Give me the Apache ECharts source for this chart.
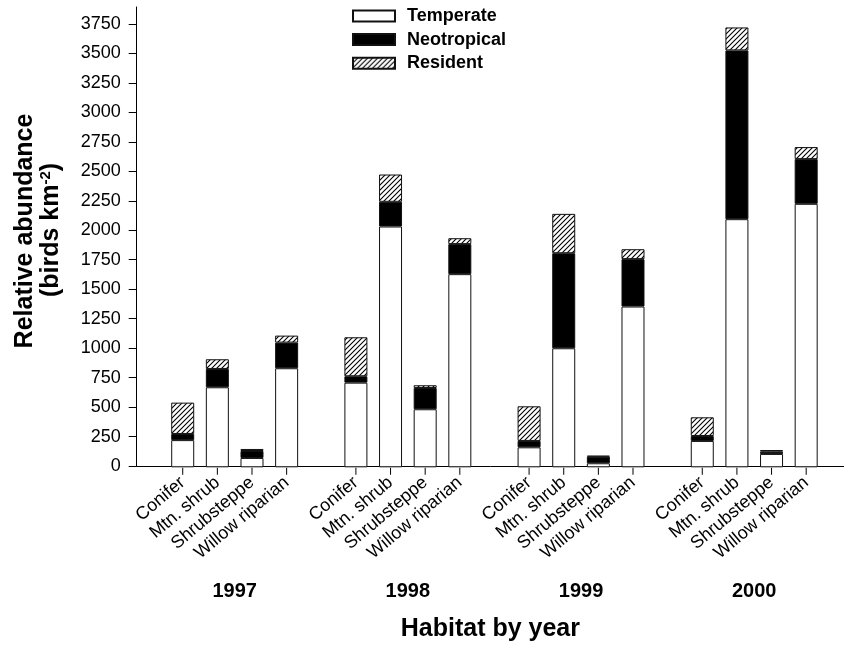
<!DOCTYPE html>
<html>
<head>
<meta charset="utf-8">
<script src="https://cdn.jsdelivr.net/npm/echarts@6/dist/echarts.min.js"></script>
<style>
html,body{margin:0;padding:0;background:#fff;}
#chart{width:844px;height:647px;}
</style>
</head>
<body>
<div id="chart"></div>
<script>
// ---- data (year-major order: each year lists the 4 habitats) ----
var years = ['1997', '1998', '1999', '2000'];
var habitats = ['Conifer', 'Mtn. shrub', 'Shrubsteppe', 'Willow riparian'];
var temperate   = [230, 677, 79, 838,   716, 2037, 491, 1634,   169, 1007, 34, 1360,   223, 2099, 113, 2229];
var neotropical = [ 52, 155, 59, 217,    54,  209, 180,  254,    54,  804, 56,  401,    42, 1428,  19,  378];
var resident    = [265,  82, 17,  59,   330,  231,  23,   50,   293,  333,  8,   84,   158,  194,  14,  102];
var yTicks = [0, 250, 500, 750, 1000, 1250, 1500, 1750, 2000, 2250, 2500, 2750, 3000, 3250, 3500, 3750];

var FONT = '"Liberation Sans", Arial, Helvetica, sans-serif';

// category list with one blank slot between years
var cats = [], catLabel = {};
var tSer = [], nSer = [], rSer = [], tickSer = [];
years.forEach(function (yr, y) {
  if (y > 0) {
    var b = 'gap' + y; cats.push(b); catLabel[b] = '';
    tSer.push('-'); nSer.push('-'); rSer.push('-'); tickSer.push('-');
  }
  habitats.forEach(function (h, k) {
    var key = yr + '|' + h, i = y * habitats.length + k;
    cats.push(key); catLabel[key] = h;
    tSer.push(temperate[i]); nSer.push(neotropical[i]); rSer.push(resident[i]);
    tickSer.push(0); // tick mark under each bar, at the axis baseline
  });
});
var yearCenters = years.map(function (_, y) { return y * (habitats.length + 1) + (habitats.length - 1) / 2; });
function yearFor(v) {
  for (var k = 0; k < yearCenters.length; k++) if (Math.abs(yearCenters[k] - v) < 0.01) return years[k];
  return '';
}

// hatch pattern
var hc = document.createElement('canvas');
var P = 5;
hc.width = P; hc.height = P;
var g = hc.getContext('2d');
g.fillStyle = '#fff'; g.fillRect(0, 0, P, P);
g.strokeStyle = '#000'; g.lineWidth = 1.1;
g.beginPath();
g.moveTo(0, P); g.lineTo(P, 0);
g.moveTo(-1, 1); g.lineTo(1, -1);
g.moveTo(P - 1, P + 1); g.lineTo(P + 1, P - 1);
g.stroke();
var hatch = { image: hc, repeat: 'repeat' };

var YMAX = 3894;
var chart = echarts.init(document.getElementById('chart'));

var option = {
  animation: false,
  backgroundColor: '#fff',
  textStyle: { fontFamily: FONT },
  grid: [
    { left: 136.7, right: 0, top: 7, bottom: 179.7 },      // frame: axes lines + y labels
    { left: 165.4, right: 20.5, top: 7, bottom: 179.7 }    // bars
  ],
  legend: {
    orient: 'vertical',
    left: 352, top: 7, padding: 0,
    itemWidth: 42, itemHeight: 11, itemGap: 5.6,
    icon: 'rect',
    textStyle: { fontFamily: FONT, fontSize: 18, fontWeight: 'bold', color: '#000', padding: [0, 0, 0, 7] },
    data: ['Temperate', 'Neotropical', 'Resident']
  },
  xAxis: [{
    gridIndex: 0, type: 'value', min: 0, max: 1,
    splitLine: { show: false },
    axisLine: { show: true, lineStyle: { color: '#000', width: 1 } },
    axisTick: { show: false }, axisLabel: { show: false },
    name: 'Habitat by year', nameLocation: 'middle', nameGap: 151,
    nameTextStyle: { fontSize: 25, fontWeight: 'bold', color: '#000', fontFamily: FONT }
  }, {
    gridIndex: 1, type: 'category', data: cats, boundaryGap: true,
    axisLine: { show: false, onZero: false },
    axisTick: { show: false },
    axisLabel: {
      interval: 0, formatter: function (v) { return catLabel[v]; },
      rotate: 40, margin: 13, fontSize: 18, color: '#000', fontFamily: FONT
    }
  }, {
    gridIndex: 1, type: 'value', min: -0.5, max: cats.length - 0.5, position: 'bottom',
    splitLine: { show: false },
    axisLine: { show: false, onZero: false },
    axisTick: { show: false },
    axisLabel: {
      customValues: yearCenters, formatter: yearFor,
      margin: 114, fontSize: 20, fontWeight: 'bold', color: '#000', fontFamily: FONT
    }
  }],
  yAxis: [{
    gridIndex: 0, type: 'value', min: 0, max: YMAX,
    splitLine: { show: false },
    axisLine: { show: true, lineStyle: { color: '#000', width: 1 } },
    axisTick: { show: true, length: 8, lineStyle: { color: '#000' }, customValues: yTicks },
    axisLabel: {
      customValues: yTicks, margin: 16, fontSize: 18, color: '#000', fontFamily: FONT,
      formatter: function (v) { return String(v); }
    }
  }, {
    gridIndex: 1, type: 'value', min: 0, max: YMAX, show: false
  }],
  graphic: [{
    type: 'text', x: 25, y: 231, rotation: Math.PI / 2,
    style: {
      text: 'Relative abundance', fontSize: 25, fontWeight: 'bold', fill: '#000',
      fontFamily: FONT, align: 'center', verticalAlign: 'middle'
    }
  }, {
    type: 'text', x: 51, y: 230, rotation: Math.PI / 2,
    style: {
      text: '{a|(birds km}{s|-2}{a|)}',
      align: 'center', verticalAlign: 'middle',
      rich: {
        a: { fontSize: 25, fontWeight: 'bold', fill: '#000', fontFamily: FONT },
        s: { fontSize: 15, fontWeight: 'bold', fill: '#000', fontFamily: FONT, verticalAlign: 'top', padding: [0, 0, 10, 0] }
      }
    }
  }],
  series: [{
    name: 'Temperate', type: 'bar', stack: 'a', barWidth: 23, xAxisIndex: 1, yAxisIndex: 1,
    itemStyle: { color: '#fff', borderColor: '#111', borderWidth: 1 },
    data: tSer
  }, {
    name: 'Neotropical', type: 'bar', stack: 'a', barWidth: 23, xAxisIndex: 1, yAxisIndex: 1,
    itemStyle: { color: '#000', borderColor: '#111', borderWidth: 1 },
    data: nSer
  }, {
    name: 'Resident', type: 'bar', stack: 'a', barWidth: 23, xAxisIndex: 1, yAxisIndex: 1,
    itemStyle: { color: hatch, borderColor: '#111', borderWidth: 1 },
    data: rSer
  }, {
    name: 'ticks', type: 'scatter', xAxisIndex: 1, yAxisIndex: 1,
    symbol: 'rect', symbolSize: [1, 7], symbolOffset: [0, 4],
    clip: false, silent: true, z: 5,
    itemStyle: { color: '#000', opacity: 1 },
    emphasis: { disabled: true },
    data: tickSer
  }]
};
chart.setOption(option);
</script>
</body>
</html>
